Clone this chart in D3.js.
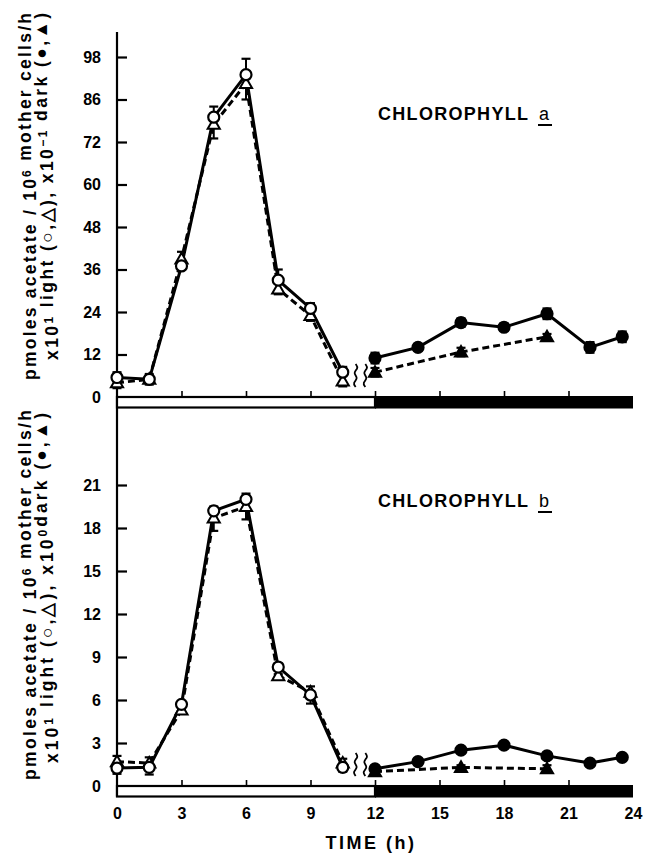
<!DOCTYPE html>
<html>
<head>
<meta charset="utf-8">
<script src="https://cdn.jsdelivr.net/npm/d3@7"></script>
<style>
  body { margin: 0; background: #fff; }
  svg { display: block; }
  text { font-family: "Liberation Sans", Arial, sans-serif; font-weight: bold; fill: #000; }
</style>
</head>
<body>
<svg id="chart" width="647" height="859"></svg>
<script>
// time points (h)
const timeLight = [0, 1.5, 3, 4.5, 6, 7.5, 9, 10.5];
const timeDarkCircle = [12, 14, 16, 18, 20, 22, 23.5];
const timeDarkTri = [12, 16, 20];

// chlorophyll a
const aLightCircle = [5.5, 5, 37, 79, 91, 33, 25, 7];
const aLightCircleErr = [1.5, 1.5, 4, 3, 4.5, 3, 1.5, 1.5];
const aLightTri = [4, 5, 39, 77, 88.5, 30.5, 23, 4.5];
const aLightTriErr = [1.5, 1.5, 3, 4, 4.5, 1.5, 1.5, 1.5];
const aDarkCircle = [11, 14, 21, 19.7, 23.5, 14, 17];
const aDarkCircleErr = [1.5, 1, 1.2, 1, 1.5, 1.5, 1.5];
const aDarkTri = [7, 12.7, 17];
const aDarkTriErr = [1.2, 1.2, 0.8];

// chlorophyll b
const bLightCircle = [1.25, 1.3, 5.7, 19.2, 20, 8.3, 6.35, 1.3];
const bLightCircleErr = [0.4, 0.5, 0.4, 1.4, 1.4, 0.5, 0.6, 0.3];
const bLightTri = [1.7, 1.6, 5.3, 18.7, 19.5, 7.7, 6.55, 1.6];
const bLightTriErr = [0.4, 0.4, 0.3, 0.8, 0.9, 0.8, 0.4, 0.3];
const bDarkCircle = [1.2, 1.7, 2.5, 2.85, 2.1, 1.6, 2.0];
const bDarkCircleErr = [0.2, 0.2, 0.2, 0.2, 0.2, 0.15, 0.2];
const bDarkTri = [1.0, 1.3, 1.2];
const bDarkTriErr = [0.15, 0.15, 0.25];

// axis ticks
const xTicks = [0, 3, 6, 9, 12, 15, 18, 21, 24];
const aTicks = [0, 12, 24, 36, 48, 60, 72, 84, 96];
const aTickLabels = ["0", "12", "24", "36", "48", "60", "72", "86", "98"];
const bTicks = [0, 3, 6, 9, 12, 15, 18, 21];

const svg = d3.select("#chart");

const x = d3.scaleLinear().domain([0, 24]).range([117, 633]);
const yA = d3.scaleLinear().domain([0, 96]).range([397, 57]);
const yB = d3.scaleLinear().domain([0, 21]).range([786, 485]);

const barH = 10.5;

// shared y axis line
svg.append("line")
    .attr("x1", x(0)).attr("x2", x(0))
    .attr("y1", 32).attr("y2", yB(0) + barH)
    .attr("stroke", "#000").attr("stroke-width", 2.2);

function zip(xs, ys, es) {
    return xs.map((t, i) => ({ t: t, v: ys[i], e: es ? es[i] : 0 }));
}

function drawPanel(y, ticks, tickLabels, series, title, showXLabels) {
    const g = svg.append("g");

    // y axis ticks (inward)
    const yAxis = d3.axisLeft(y)
        .tickValues(ticks)
        .tickSize(-10)
        .tickPadding(16)
        .tickFormat((d, i) => tickLabels[i]);
    const ya = g.append("g")
        .attr("transform", `translate(${x(0)},0)`)
        .call(yAxis);
    ya.select(".domain").remove();
    ya.selectAll(".tick line").attr("stroke-width", 2.2);
    ya.selectAll(".tick text")
        .style("font-size", "16px")
        .style("font-family", "Liberation Sans, Arial, sans-serif")
        .style("font-weight", "bold");

    // light / dark bar
    g.append("rect")
        .attr("x", x(0)).attr("y", y(0))
        .attr("width", x(12) - x(0)).attr("height", barH)
        .attr("fill", "#fff").attr("stroke", "#000").attr("stroke-width", 2.2);
    g.append("rect")
        .attr("x", x(12)).attr("y", y(0) - 1)
        .attr("width", x(24) - x(12)).attr("height", barH + 2)
        .attr("fill", "#000");

    // x ticks pointing up from zero line
    const xAxis = d3.axisBottom(x)
        .tickValues(xTicks)
        .tickSize(-6)
        .tickPadding(showXLabels ? 22 : 0)
        .tickFormat(d => showXLabels ? d : "");
    const xa = g.append("g")
        .attr("transform", `translate(0,${y(0)})`)
        .call(xAxis);
    xa.select(".domain").remove();
    xa.selectAll(".tick line")
        .attr("stroke-width", 1.6)
        .attr("display", d => (d === 0 || d === 24) ? "none" : null);
    xa.selectAll(".tick text")
        .style("font-size", "16px")
        .style("font-family", "Liberation Sans, Arial, sans-serif")
        .style("font-weight", "bold");

    const line = d3.line().x(d => x(d.t)).y(d => y(d.v));

    // connecting lines
    series.forEach(s => {
        g.append("path")
            .datum(s.data)
            .attr("d", line)
            .attr("fill", "none")
            .attr("stroke", "#000")
            .attr("stroke-width", 3)
            .attr("stroke-dasharray", s.dashed ? "7,4" : null);
    });

    // error bars
    series.forEach(s => {
        const eb = g.append("g");
        s.data.forEach(d => {
            const up = s.errDir === "up" || s.errDir === "both";
            const down = s.errDir === "down" || s.errDir === "both";
            const y1 = up ? y(d.v + d.e) : y(d.v);
            const y2 = down ? y(d.v - d.e) : y(d.v);
            eb.append("line")
                .attr("x1", x(d.t)).attr("x2", x(d.t))
                .attr("y1", y1).attr("y2", y2)
                .attr("stroke", "#000").attr("stroke-width", 2);
            if (up) eb.append("line")
                .attr("x1", x(d.t) - 4.5).attr("x2", x(d.t) + 4.5)
                .attr("y1", y1).attr("y2", y1)
                .attr("stroke", "#000").attr("stroke-width", 2.2);
            if (down) eb.append("line")
                .attr("x1", x(d.t) - 4.5).attr("x2", x(d.t) + 4.5)
                .attr("y1", y2).attr("y2", y2)
                .attr("stroke", "#000").attr("stroke-width", 2.2);
        });
    });

    // markers: triangles first, circles on top
    const order = series.slice().sort((a, b) => (a.shape === "tri" ? 0 : 1) - (b.shape === "tri" ? 0 : 1));
    order.forEach(s => {
        const mg = g.append("g");
        if (s.shape === "tri") {
            mg.selectAll("path")
                .data(s.data)
                .enter()
                .append("path")
                .attr("d", d3.symbol(d3.symbolTriangle, 64))
                .attr("transform", d => `translate(${x(d.t)},${y(d.v) + 1})`)
                .attr("fill", s.filled ? "#000" : "#fff")
                .attr("stroke", "#000").attr("stroke-width", 2);
        } else {
            mg.selectAll("circle")
                .data(s.data)
                .enter()
                .append("circle")
                .attr("cx", d => x(d.t))
                .attr("cy", d => y(d.v))
                .attr("r", 5.5)
                .attr("fill", s.filled ? "#000" : "#fff")
                .attr("stroke", "#000").attr("stroke-width", 2.2);
        }
    });

    // axis break squiggles
    const sq = d3.line().curve(d3.curveBasis);
    [11.1, 11.55].forEach(tb => {
        const cx = x(tb);
        const y0 = y(0) - 10;
        const pts = [[cx, y0], [cx - 3, y0 - 4], [cx + 3, y0 - 9], [cx - 3, y0 - 14], [cx + 3, y0 - 19], [cx, y0 - 23]];
        g.append("path").attr("d", sq(pts))
            .attr("fill", "none").attr("stroke", "#000").attr("stroke-width", 1.8);
    });

    // title
    g.append("text")
        .attr("x", 378).attr("y", title.y)
        .attr("textLength", 150)
        .attr("lengthAdjust", "spacing")
        .style("font-size", "18px")
        .text("CHLOROPHYLL");
    g.append("text")
        .attr("x", 539).attr("y", title.y)
        .style("font-size", "18px")
        .style("font-weight", "normal")
        .text(title.letter);
    g.append("line")
        .attr("x1", 538).attr("x2", 552)
        .attr("y1", title.y + 5).attr("y2", title.y + 5)
        .attr("stroke", "#000").attr("stroke-width", 2);
}

drawPanel(yA, aTicks, aTickLabels, [
    { data: zip(timeLight, aLightTri, aLightTriErr), shape: "tri", filled: false, dashed: true, errDir: "down" },
    { data: zip(timeLight, aLightCircle, aLightCircleErr), shape: "circle", filled: false, dashed: false, errDir: "up" },
    { data: zip(timeDarkTri, aDarkTri, aDarkTriErr), shape: "tri", filled: true, dashed: true, errDir: "both" },
    { data: zip(timeDarkCircle, aDarkCircle, aDarkCircleErr), shape: "circle", filled: true, dashed: false, errDir: "both" }
], { y: 120, letter: "a" }, false);

drawPanel(yB, bTicks, bTicks.map(String), [
    { data: zip(timeLight, bLightTri, bLightTriErr), shape: "tri", filled: false, dashed: true, errDir: "up" },
    { data: zip(timeLight, bLightCircle, bLightCircleErr), shape: "circle", filled: false, dashed: false, errDir: "down" },
    { data: zip(timeDarkTri, bDarkTri, bDarkTriErr), shape: "tri", filled: true, dashed: true, errDir: "both" },
    { data: zip(timeDarkCircle, bDarkCircle, bDarkCircleErr), shape: "circle", filled: true, dashed: false, errDir: "both" }
], { y: 507, letter: "b" }, true);

// y axis labels (rotated)
function yLabel(cx, yStart, yEnd, parts) {
    const t = svg.append("text")
        .attr("transform", `translate(${cx},${yStart}) rotate(-90)`)
        .attr("dy", "0.35em")
        .attr("textLength", yStart - yEnd)
        .attr("lengthAdjust", "spacing")
        .style("font-size", "17.5px");
    parts.forEach(p => {
        if (p.sup) {
            t.append("tspan").attr("dy", "-0.45em").style("font-size", "12px").text(p.sup);
            t.append("tspan").attr("dy", "0.45em").text("");
        } else {
            t.append("tspan").text(p.s);
        }
    });
}

yLabel(30, 380, 13, [{ s: "pmoles acetate / 10" }, { sup: "6" }, { s: " mother cells/h" }]);
yLabel(52, 360, 13, [{ s: "x10" }, { sup: "1" }, { s: " light (○,△), x10" }, { sup: "−1" }, { s: " dark (●,▲)" }]);
yLabel(30, 780, 410, [{ s: "pmoles acetate / 10" }, { sup: "6" }, { s: " mother cells/h" }]);
yLabel(52, 763, 413, [{ s: "x10" }, { sup: "1" }, { s: " light (○,△), x10" }, { sup: "0" }, { s: "dark (●,▲)" }]);

// x axis title
svg.append("text")
    .attr("x", 371).attr("y", 849)
    .attr("text-anchor", "middle")
    .style("font-size", "18px")
    .style("letter-spacing", "2.5px")
    .text("TIME (h)");
</script>
</body>
</html>
